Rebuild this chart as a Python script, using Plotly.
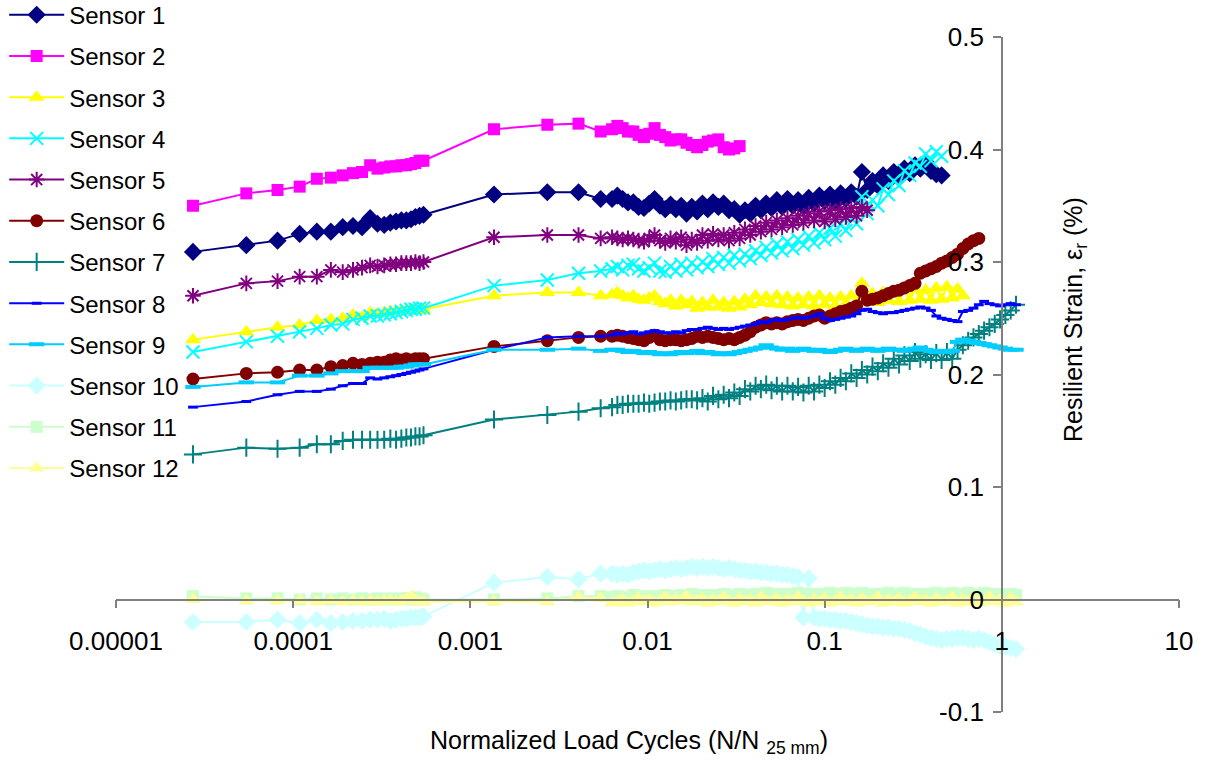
import plotly.graph_objects as go

# ---------------- data ----------------
X_EARLY = [2.72e-5, 5.44e-5, 8.16e-5, 1.088e-4, 1.36e-4, 1.632e-4, 1.904e-4, 2.176e-4, 2.448e-4, 2.72e-4,
           2.992e-4, 3.264e-4, 3.536e-4, 3.808e-4, 4.08e-4, 4.352e-4, 4.624e-4, 4.896e-4, 5.168e-4, 5.44e-4]
X_MID = [1.36e-3, 2.72e-3, 4.08e-3, 5.44e-3]
X_DENSE = [0.00631, 0.00676, 0.00724, 0.00776, 0.00832, 0.00891, 0.00955, 0.01023, 0.01096, 0.01175,
           0.01259, 0.01349, 0.01445, 0.01549, 0.01660, 0.01778, 0.01905, 0.02042, 0.02188, 0.02344,
           0.02512, 0.02692, 0.02884, 0.03090, 0.03311, 0.03548, 0.03802, 0.04074, 0.04365, 0.04677,
           0.05012, 0.05370, 0.05754, 0.06166, 0.06607, 0.07079, 0.07586, 0.08128, 0.08710, 0.09333,
           0.1000, 0.1072, 0.1148, 0.1230, 0.1318, 0.1413, 0.1514, 0.1622, 0.1738, 0.1862,
           0.1995, 0.2138, 0.2291, 0.2455, 0.2630, 0.2818, 0.3020, 0.3236, 0.3467, 0.3715,
           0.3981, 0.4266, 0.4571, 0.4898, 0.5248, 0.5623, 0.6026, 0.6457, 0.6918, 0.7413,
           0.7943, 0.8511, 0.9120, 0.9772, 1.047, 1.122, 1.202]

SENSOR_NAMES = ["Sensor 1", "Sensor 2", "Sensor 3", "Sensor 4", "Sensor 5", "Sensor 6",
                "Sensor 7", "Sensor 8", "Sensor 9", "Sensor 10", "Sensor 11", "Sensor 12"]

S1 = [0.309, 0.315, 0.319, 0.325, 0.327, 0.327, 0.331, 0.332, 0.331, 0.339, 0.334, 0.333, 0.335, 0.336, 0.337, 0.337, 0.338, 0.340, 0.341, 0.342,
      0.360, 0.362, 0.362, 0.356,
      0.356, 0.359, 0.356, 0.353, 0.353, 0.349, 0.348, 0.352, 0.356, 0.350,
      0.347, 0.351, 0.347, 0.350, 0.343, 0.349, 0.345, 0.352, 0.347, 0.353,
      0.349, 0.352, 0.346, 0.347, 0.342, 0.346, 0.343, 0.350, 0.346, 0.352,
      0.348, 0.355, 0.349, 0.356, 0.350, 0.355, 0.349, 0.357, 0.352, 0.359,
      0.354, 0.360, 0.353, 0.361, 0.356, 0.362, 0.358, 0.380, 0.364, 0.372,
      0.368, 0.377, 0.372, 0.380, 0.375, 0.383, 0.379, 0.386, 0.383, 0.389,
      0.381, 0.378, 0.377]
S2 = [0.350, 0.361, 0.364, 0.367, 0.374, 0.375, 0.377, 0.379, 0.380, 0.386, 0.383, 0.384, 0.385, 0.385, 0.386, 0.386, 0.387, 0.388, 0.390, 0.390,
      0.418, 0.422, 0.423, 0.416,
      0.418, 0.421, 0.419, 0.416, 0.416, 0.413, 0.411, 0.414, 0.419, 0.413,
      0.411, 0.408, 0.409, 0.409, 0.406, 0.404, 0.402, 0.404, 0.407, 0.408,
      0.409, 0.402, 0.400, 0.401, 0.403]
S3 = [0.231, 0.238, 0.242, 0.244, 0.248, 0.249, 0.250, 0.253, 0.251, 0.255, 0.254, 0.255, 0.256, 0.256, 0.257, 0.257, 0.257, 0.258, 0.257, 0.258,
      0.270, 0.273, 0.273, 0.270,
      0.271, 0.273, 0.270, 0.268, 0.270, 0.267, 0.266, 0.268, 0.270, 0.265,
      0.263, 0.266, 0.261, 0.266, 0.262, 0.265, 0.259, 0.264, 0.260, 0.266,
      0.260, 0.264, 0.259, 0.265, 0.260, 0.267, 0.262, 0.270, 0.264, 0.269,
      0.263, 0.270, 0.262, 0.269, 0.261, 0.268, 0.262, 0.269, 0.261, 0.270,
      0.262, 0.268, 0.261, 0.269, 0.263, 0.270, 0.264, 0.281, 0.265, 0.272,
      0.264, 0.273, 0.266, 0.274, 0.265, 0.275, 0.266, 0.276, 0.267, 0.275,
      0.266, 0.277, 0.267, 0.278, 0.268, 0.276, 0.270]
S4 = [0.220, 0.229, 0.234, 0.238, 0.241, 0.244, 0.245, 0.249, 0.250, 0.252, 0.252, 0.253, 0.254, 0.255, 0.256, 0.257, 0.258, 0.258, 0.259, 0.259,
      0.279, 0.284, 0.290, 0.292,
      0.294, 0.296, 0.293, 0.297, 0.298, 0.294, 0.292, 0.295, 0.299, 0.292,
      0.291, 0.296, 0.292, 0.298, 0.293, 0.299, 0.295, 0.300, 0.296, 0.303,
      0.298, 0.304, 0.299, 0.306, 0.301, 0.307, 0.303, 0.310, 0.306, 0.313,
      0.308, 0.316, 0.310, 0.318, 0.312, 0.320, 0.315, 0.323, 0.317, 0.326,
      0.320, 0.330, 0.323, 0.334, 0.328, 0.339, 0.334, 0.358, 0.343, 0.355,
      0.350, 0.365, 0.360, 0.372, 0.368, 0.381, 0.377, 0.388, 0.385, 0.396,
      0.390, 0.398, 0.394]
S5 = [0.270, 0.281, 0.283, 0.287, 0.287, 0.293, 0.291, 0.293, 0.295, 0.297, 0.296, 0.297, 0.298, 0.298, 0.299, 0.299, 0.299, 0.300, 0.299, 0.300,
      0.322, 0.324, 0.324, 0.321,
      0.322, 0.321, 0.320, 0.321, 0.320, 0.319, 0.318, 0.321, 0.324, 0.319,
      0.317, 0.321, 0.318, 0.322, 0.315, 0.320, 0.317, 0.324, 0.319, 0.325,
      0.320, 0.324, 0.319, 0.326, 0.321, 0.329, 0.324, 0.332, 0.327, 0.335,
      0.329, 0.337, 0.331, 0.339, 0.333, 0.341, 0.335, 0.343, 0.337, 0.345,
      0.336, 0.346, 0.338, 0.347, 0.340, 0.348, 0.341, 0.349, 0.346]
S6 = [0.196, 0.201, 0.202, 0.204, 0.204, 0.207, 0.208, 0.210, 0.209, 0.210, 0.211, 0.211, 0.213, 0.214, 0.213, 0.214, 0.213, 0.214, 0.214, 0.214,
      0.225, 0.230, 0.233, 0.234,
      0.234, 0.235, 0.234, 0.233, 0.232, 0.231, 0.230, 0.233, 0.235, 0.231,
      0.230, 0.231, 0.231, 0.230, 0.231, 0.232, 0.234, 0.233, 0.234, 0.233,
      0.232, 0.231, 0.232, 0.231, 0.233, 0.235, 0.238, 0.242, 0.244, 0.246,
      0.245, 0.246, 0.245, 0.247, 0.248, 0.249, 0.248, 0.250, 0.252, 0.253,
      0.250, 0.252, 0.254, 0.256, 0.257, 0.259, 0.261, 0.274, 0.266, 0.267,
      0.268, 0.270, 0.272, 0.274, 0.275, 0.277, 0.279, 0.281, 0.290, 0.292,
      0.294, 0.296, 0.299, 0.301, 0.304, 0.307, 0.312, 0.316, 0.319, 0.321]
S7 = [0.129, 0.135, 0.134, 0.135, 0.138, 0.138, 0.141, 0.142, 0.142, 0.142, 0.142, 0.142, 0.143, 0.142, 0.143, 0.144, 0.144, 0.145, 0.145, 0.146,
      0.160, 0.164, 0.167, 0.170,
      0.171, 0.173, 0.173, 0.174, 0.174, 0.174, 0.175, 0.174, 0.175, 0.176,
      0.176, 0.177, 0.176, 0.177, 0.178, 0.178, 0.177, 0.179, 0.176, 0.181,
      0.178, 0.182, 0.179, 0.184, 0.181, 0.187, 0.185, 0.190, 0.187, 0.191,
      0.186, 0.190, 0.185, 0.190, 0.185, 0.189, 0.184, 0.190, 0.185, 0.191,
      0.188, 0.194, 0.191, 0.197, 0.194, 0.201, 0.197, 0.204, 0.200, 0.207,
      0.203, 0.210, 0.206, 0.214, 0.209, 0.217, 0.212, 0.220, 0.214, 0.218,
      0.213, 0.219, 0.213, 0.220, 0.214, 0.222, 0.226, 0.230, 0.233, 0.236,
      0.239, 0.242, 0.245, 0.249, 0.253, 0.257, 0.262]
S8 = [0.171, 0.176, 0.182, 0.185, 0.185, 0.187, 0.190, 0.192, 0.192, 0.197, 0.196, 0.197, 0.198, 0.199, 0.200, 0.201, 0.202, 0.203, 0.204, 0.205,
      0.222, 0.233, 0.234, 0.234,
      0.235, 0.237, 0.236, 0.237, 0.238, 0.236, 0.237, 0.238, 0.239, 0.238,
      0.237, 0.237, 0.238, 0.237, 0.239, 0.240, 0.240, 0.241, 0.242, 0.241,
      0.240, 0.241, 0.240, 0.241, 0.242, 0.243, 0.244, 0.245, 0.247, 0.246,
      0.248, 0.249, 0.248, 0.249, 0.250, 0.251, 0.250, 0.251, 0.252, 0.254,
      0.250, 0.248, 0.249, 0.250, 0.251, 0.252, 0.254, 0.257, 0.258, 0.256,
      0.255, 0.254, 0.255, 0.255, 0.256, 0.257, 0.258, 0.259, 0.260, 0.259,
      0.257, 0.252, 0.250, 0.249, 0.248, 0.247, 0.256, 0.257, 0.259, 0.262,
      0.265, 0.263, 0.262, 0.261, 0.262, 0.263, 0.262]
S9 = [0.189, 0.193, 0.193, 0.199, 0.199, 0.201, 0.203, 0.203, 0.203, 0.206, 0.206, 0.206, 0.206, 0.206, 0.207, 0.207, 0.208, 0.209, 0.209, 0.209,
      0.222, 0.222, 0.223, 0.221,
      0.222, 0.222, 0.221, 0.220, 0.221, 0.220, 0.219, 0.220, 0.219, 0.218,
      0.219, 0.218, 0.219, 0.220, 0.219, 0.220, 0.221, 0.219, 0.220, 0.219,
      0.218, 0.219, 0.218, 0.219, 0.220, 0.221, 0.222, 0.223, 0.224, 0.226,
      0.224, 0.223, 0.222, 0.223, 0.221, 0.222, 0.223, 0.222, 0.221, 0.222,
      0.221, 0.220, 0.221, 0.222, 0.223, 0.222, 0.221, 0.222, 0.223, 0.222,
      0.221, 0.222, 0.223, 0.222, 0.222, 0.221, 0.222, 0.223, 0.224, 0.222,
      0.221, 0.220, 0.221, 0.220, 0.221, 0.229, 0.231, 0.230, 0.229, 0.228,
      0.227, 0.226, 0.225, 0.224, 0.223, 0.222, 0.222]
S10 = [-0.020, -0.020, -0.018, -0.021, -0.018, -0.021, -0.020, -0.019, -0.019, -0.018, -0.018, -0.017, -0.019, -0.018, -0.017, -0.017, -0.016, -0.016, -0.016, -0.015,
       0.015, 0.020, 0.018, 0.023,
       0.023, 0.022, 0.023, 0.022, 0.024, 0.025, 0.026, 0.025, 0.026, 0.027,
       0.026, 0.027, 0.028, 0.027, 0.028, 0.029, 0.028, 0.029, 0.028, 0.029,
       0.028, 0.027, 0.028, 0.027, 0.026, 0.026, 0.025, 0.025, 0.024, 0.024,
       0.023, 0.023, 0.022, 0.022, 0.021, 0.020, -0.016, 0.019, -0.016, -0.017,
       -0.017, -0.018, -0.018, -0.019, -0.019, -0.020, -0.021, -0.022, -0.023, -0.024,
       -0.024, -0.025, -0.025, -0.026, -0.026, -0.027, -0.028, -0.030, -0.031, -0.033,
       -0.034, -0.035, -0.036, -0.035, -0.035, -0.034, -0.034, -0.035, -0.036, -0.035,
       -0.036, -0.038, -0.040, -0.041, -0.042, -0.043, -0.044]
S11 = [0.003, 0.001, 0.001, 0.000, 0.001, 0.000, 0.001, 0.000, 0.001, 0.000, 0.001, 0.000, 0.001, 0.000, 0.001, 0.001, 0.000, 0.002, 0.001, 0.000,
       0.000, 0.001, 0.003, 0.003,
       0.002, 0.003, 0.001, 0.002, 0.004, 0.002, 0.003, 0.001, 0.003, 0.002,
       0.004, 0.003, 0.002, 0.004, 0.003, 0.005, 0.003, 0.004, 0.002, 0.004,
       0.003, 0.005, 0.004, 0.003, 0.005, 0.004, 0.003, 0.005, 0.004, 0.006,
       0.004, 0.005, 0.003, 0.005, 0.004, 0.006, 0.004, 0.005, 0.003, 0.005,
       0.004, 0.006, 0.005, 0.004, 0.006, 0.005, 0.004, 0.006, 0.005, 0.003,
       0.005, 0.004, 0.006, 0.005, 0.004, 0.006, 0.004, 0.005, 0.003, 0.005,
       0.004, 0.006, 0.005, 0.004, 0.006, 0.005, 0.004, 0.006, 0.005, 0.004,
       0.006, 0.005, 0.004, 0.005, 0.004, 0.005, 0.004]
S12 = [0.000, -0.001, -0.001, -0.001, -0.002, -0.001, -0.002, -0.001, -0.002, -0.001, -0.002, -0.001, -0.001, -0.002, -0.001, 0.000, 0.003, -0.001, -0.002, -0.002,
       -0.002, -0.002, 0.002, 0.001,
       -0.003, -0.002, 0.000, -0.003, -0.001, 0.001, -0.002, 0.000, -0.003, -0.001,
       0.002, -0.002, 0.000, -0.001, 0.003, -0.002, -0.001, 0.001, -0.003, 0.000,
       -0.002, 0.002, -0.001, -0.003, 0.001, -0.002, 0.000, -0.003, 0.002, -0.001,
       -0.002, 0.001, -0.003, 0.000, -0.002, 0.002, -0.001, -0.003, 0.000, -0.002,
       0.001, -0.003, -0.001, 0.002, -0.002, 0.000, -0.003, 0.001, -0.002, -0.001,
       0.002, -0.003, 0.000, -0.002, 0.001, -0.003, -0.001, 0.002, -0.002, 0.000,
       -0.003, 0.001, -0.002, -0.001, 0.002, -0.003, 0.000, -0.002, 0.001, -0.003,
       -0.001, 0.002, -0.002, 0.000, -0.003, 0.001, -0.002]

SERIES = [S1, S2, S3, S4, S5, S6, S7, S8, S9, S10, S11, S12]

X_TICKS = [1e-5, 1e-4, 1e-3, 1e-2, 1e-1, 1, 10]
X_TICKTEXT = ["0.00001", "0.0001", "0.001", "0.01", "0.1", "1", "10"]
Y_TICKS = [-0.1, 0, 0.1, 0.2, 0.3, 0.4, 0.5]
Y_TICKTEXT = ["-0.1", "0", "0.1", "0.2", "0.3", "0.4", "0.5"]

# ---------------- styles ----------------
COLORS = ["#000080", "#FF00FF", "#FFFF00", "#00FFFF", "#800080", "#800000",
          "#008080", "#0000FF", "#00CCFF", "#CCFFFF", "#CCFFCC", "#FFFF99"]
SYMBOLS = ["diamond", "square", "triangle-up", "x-thin", "asterisk", "circle",
           "cross-thin", "line-ew", "line-ew", "diamond", "square", "triangle-up"]
SIZES = [14, 12, 14, 13, 13, 13, 13, 7, 11, 14, 12, 14]
MLINE = [0, 0, 0, 2, 2, 0, 2, 3, 4, 0, 0, 0]

FONT = "Liberation Sans, Arial, sans-serif"

fig = go.Figure()
x_all = X_EARLY + X_MID + X_DENSE
for i, (name, ys) in enumerate(zip(SENSOR_NAMES, SERIES)):
    n = min(len(ys), len(x_all))
    fig.add_trace(go.Scatter(
        x=x_all[:n], y=ys[:n], name=name, mode="lines+markers",
        legendgroup=name,
        line=dict(color=COLORS[i], width=2),
        marker=dict(symbol=SYMBOLS[i], size=SIZES[i], color=COLORS[i],
                    line=dict(color=COLORS[i], width=MLINE[i])),
    ))

fig.update_layout(
    width=1206, height=761,
    margin=dict(l=116, r=27, t=37, b=49, autoexpand=False),
    paper_bgcolor="white", plot_bgcolor="white",
    font=dict(family=FONT, size=24, color="black"),
    showlegend=True,
    legend=dict(x=-0.1052, y=1.0657, xanchor="left", yanchor="top",
                bgcolor="rgba(0,0,0,0)", font=dict(size=24),
                itemwidth=55, tracegroupgap=7, maxheight=740),
    xaxis=dict(type="log", range=[-5, 1], anchor="free", position=1/6,
               showgrid=False, zeroline=False, showline=True,
               linecolor="#808080", linewidth=1.5,
               ticks="outside", ticklen=8, tickcolor="#808080", tickwidth=1.5,
               tickvals=X_TICKS, ticktext=X_TICKTEXT, ticklabelstandoff=11,
               tickfont=dict(size=26)),
    yaxis=dict(range=[-0.1, 0.5], anchor="free", position=5/6,
               showgrid=False, zeroline=False, showline=True,
               linecolor="#808080", linewidth=1.5,
               ticks="outside", ticklen=8, tickcolor="#808080", tickwidth=1.5,
               tickvals=Y_TICKS, ticktext=Y_TICKTEXT, ticklabelstandoff=4,
               tickfont=dict(size=26)),
    annotations=[
        dict(text="Resilient Strain, ε<sub>r</sub> (%)", xref="paper", yref="paper",
             x=0.902, y=0.582, textangle=-90, showarrow=False,
             xanchor="center", yanchor="middle", font=dict(size=25)),
        dict(text="Normalized Load Cycles (N/N <sub>25 mm</sub>)", xref="paper", yref="paper",
             x=0.4826, y=-0.044, showarrow=False,
             xanchor="center", yanchor="middle", font=dict(size=25)),
    ],
)

fig.write_html("out.html")
